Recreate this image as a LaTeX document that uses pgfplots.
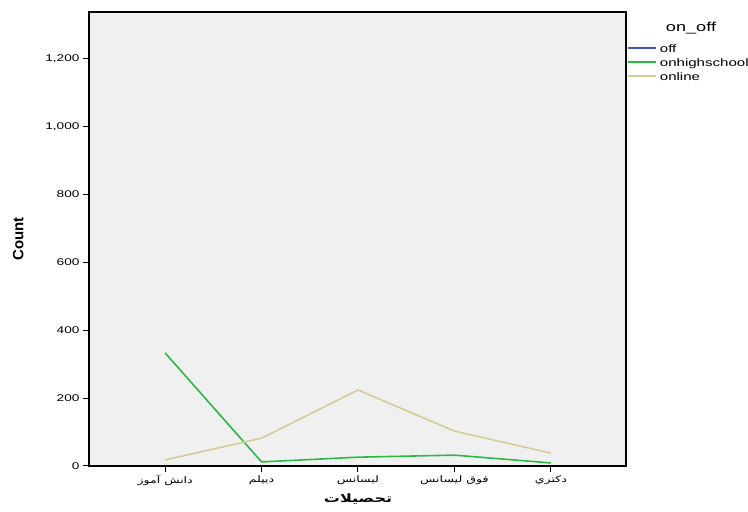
\documentclass[border=0pt]{standalone}
\usepackage{fontspec}
\setmainfont{Liberation Sans}
\newfontfamily\widefont[FakeStretch=1.4]{Liberation Sans}
\newfontfamily\arabicfont[Script=Arabic,FakeStretch=1.4]{DejaVu Sans}
\TeXXeTstate=1
\usepackage{pgfplots}
\pgfplotsset{compat=1.18}

\definecolor{offblue}{RGB}{62,88,172}
\definecolor{hsgreen}{RGB}{46,184,72}
\definecolor{onlinetan}{RGB}{211,206,151}
\definecolor{plotbg}{RGB}{240,240,240}

\begin{document}
\begin{tikzpicture}[x=1bp,y=1bp]
\path[use as bounding box] (0,0) rectangle (748,512);
\begin{axis}[
    at={(89bp,46bp)}, anchor=south west,
    scale only axis,
    width=537bp, height=454bp,
    axis background/.style={fill=plotbg},
    axis line style={line width=1.2bp},
    xmin=-0.79, xmax=4.78,
    ymin=0, ymax=1338,
    xtick={0,1,2,3,4},
    xticklabels={
      {\arabicfont\beginR دانش آموز\endR},
      {\arabicfont\beginR ديپلم\endR},
      {\arabicfont\beginR ليسانس\endR},
      {\arabicfont\beginR فوق ليسانس\endR},
      {\arabicfont\beginR دکتري\endR}},
    ytick={0,200,400,600,800,1000,1200},
    tick align=outside,
    major tick length=6bp,
    tick style={black, line width=1bp},
    xtick pos=bottom, ytick pos=left,
    /pgf/number format/assume math mode=true,
    /pgf/number format/1000 sep={,},
    yticklabel style={font=\widefont\fontsize{9.8}{11}\selectfont},
    xticklabel style={font=\fontsize{9}{11}\selectfont},
    ylabel={\textbf{Count}},
    ylabel style={font=\fontsize{15}{17}\selectfont, at={(-0.132,0.5)}, anchor=center},
    legend style={at={(1.002,0.932)}, anchor=north west, draw=none, fill=none,
      font=\widefont\fontsize{10.8}{12}\selectfont, inner sep=0pt, row sep=0pt,
      nodes={inner sep=0pt, text height=9bp, text depth=5bp},
      legend cell align=left},
    /tikz/every odd column/.style={column sep=3bp},
    legend image code/.code={\draw[#1] (0bp,2bp) -- (28bp,2bp);},
]
\addlegendimage{draw=offblue, line width=1.6bp}
\addlegendentry{off}
\addlegendimage{draw=hsgreen, line width=1.6bp}
\addlegendentry{onhighschool}
\addlegendimage{draw=onlinetan, line width=1.6bp}
\addlegendentry{online}

\addplot[hsgreen, line width=1.6bp, forget plot] coordinates {
    (0,333) (1,12) (2,26) (3,32) (4,9)
};

\addplot[onlinetan, line width=1.6bp, forget plot] coordinates {
    (0,18) (1,82) (2,224) (3,103) (4,38)
};
\end{axis}
\node[font=\widefont\fontsize{13}{15}\selectfont, anchor=center] at (691,484) {on\_off};
% x axis title
\node[font=\fontsize{11.5}{13}\selectfont, anchor=base, inner sep=0pt] at (358,9)
  {\arabicfont\bfseries\beginR تحصيلات\endR};
\end{tikzpicture}
\end{document}
